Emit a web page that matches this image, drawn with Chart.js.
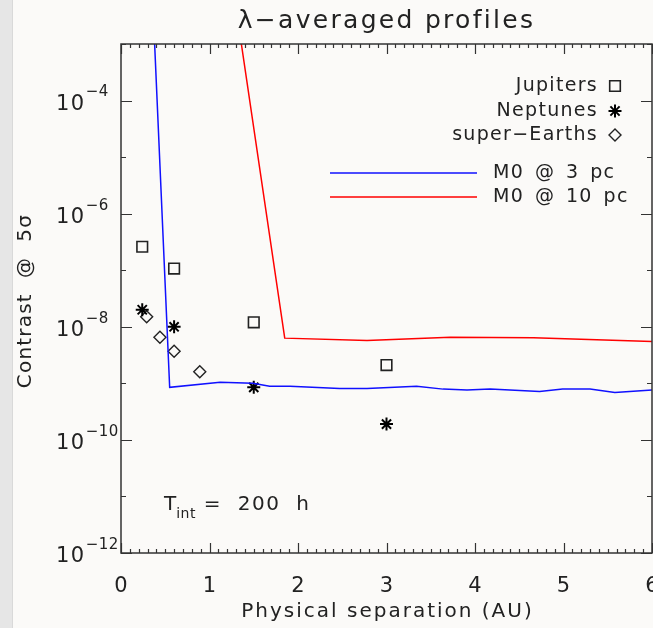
<!DOCTYPE html>
<html>
<head>
<meta charset="utf-8">
<script src="https://cdn.jsdelivr.net/npm/chart.js@4/dist/chart.umd.min.js"></script>
<style>
html, body { margin: 0; padding: 0; background: #fbfaf8; }
body { width: 653px; height: 628px; overflow: hidden; position: relative; }
#strip { position: absolute; left: 0; top: 0; width: 12px; height: 628px; background: #e6e6e6; border-right: 1px solid #d9d9d9; }
#chart { position: absolute; left: 0; top: 0; }
</style>
</head>
<body>
<div id="strip"></div>
<canvas id="chart" width="653" height="628"></canvas>
<script>
// planets (separation in AU, contrast)
const jupitersX = [0.24, 0.6, 1.5, 3.0];
const jupitersY = [2.6e-7, 1.07e-7, 1.2e-8, 2.1e-9];
const neptunesX = [0.24, 0.6, 1.5, 3.0];
const neptunesY = [2.0e-8, 1.0e-8, 8.5e-10, 1.9e-10];
const superEarthsX = [0.29, 0.44, 0.6, 0.89];
const superEarthsY = [1.5e-8, 6.5e-9, 3.7e-9, 1.6e-9];

// contrast curves
const m0at3X = [0.38, 0.55, 1.12, 1.49, 1.68, 1.91, 2.47, 2.78, 3.34, 3.64, 3.91, 4.17, 4.73, 4.99, 5.3, 5.58, 6.0];
const m0at3Y = [1e-3, 8.5e-10, 1.05e-9, 1.0e-9, 8.9e-10, 8.9e-10, 8.1e-10, 8.1e-10, 8.9e-10, 7.9e-10, 7.6e-10, 7.9e-10, 7.2e-10, 7.9e-10, 7.9e-10, 6.9e-10, 7.6e-10];
const m0at10X = [1.36, 1.85, 2.78, 3.72, 4.66, 6.0];
const m0at10Y = [1e-3, 6.3e-9, 5.7e-9, 6.5e-9, 6.4e-9, 5.5e-9];

// axes
const xTicks = [0, 1, 2, 3, 4, 5, 6];
const yDecades = [-12, -11, -10, -9, -8, -7, -6, -5, -4, -3];
const yLabels = [-12, -10, -8, -6, -4];

function pts(xs, ys) {
    return xs.map((x, i) => ({ x: x, y: ys[i] }));
}

const FONT = '"DejaVu Sans", sans-serif';
const INK = '#222';

const symJup = { pointStyle: 'rect', radius: 7.5, borderWidth: 1.6, borderColor: INK, rotation: 0 };
const symNep = { pointStyle: 'star', radius: 6.5, borderWidth: 2, borderColor: '#000', rotation: 0 };
const symSE = { pointStyle: 'rectRot', radius: 6, borderWidth: 1.4, borderColor: INK, rotation: 0 };

function text(ctx, s, x, y, size, spacing) {
    ctx.font = size + 'px ' + FONT;
    ctx.letterSpacing = (spacing || 0) + 'px';
    ctx.fillText(s, x, y);
    return ctx.measureText(s).width;
}

const axesPlugin = {
    id: 'idlAxes',
    afterDraw(chart) {
        const ctx = chart.ctx;
        const a = chart.chartArea;
        const xs = chart.scales.x, ys = chart.scales.y;
        ctx.save();
        ctx.strokeStyle = '#333';
        ctx.lineWidth = 1.5;
        ctx.strokeRect(a.left, a.top, a.right - a.left, a.bottom - a.top);

        // x ticks, major and minor, bottom and top
        ctx.lineWidth = 1.2;
        for (let i = 0; i <= 60; i++) {
            const v = i / 10;
            const px = Math.round(xs.getPixelForValue(v)) + 0.5;
            const len = (i % 10 === 0) ? 10 : 4;
            ctx.beginPath();
            ctx.moveTo(px, a.bottom); ctx.lineTo(px, a.bottom - len);
            ctx.moveTo(px, a.top); ctx.lineTo(px, a.top + len);
            ctx.stroke();
        }
        // y ticks
        yDecades.forEach(d => {
            const py = Math.round(ys.getPixelForValue(Math.pow(10, d))) + 0.5;
            const len = yLabels.includes(d) ? 11 : 5;
            ctx.beginPath();
            ctx.moveTo(a.left, py); ctx.lineTo(a.left + len, py);
            ctx.moveTo(a.right, py); ctx.lineTo(a.right - len, py);
            ctx.stroke();
        });

        ctx.fillStyle = INK;
        // x tick labels
        ctx.textAlign = 'center';
        ctx.textBaseline = 'middle';
        xTicks.forEach(v => {
            text(ctx, String(v), xs.getPixelForValue(v), 587, 21, 0);
        });
        // y tick labels 10^n
        ctx.textAlign = 'left';
        yLabels.forEach(d => {
            const py = ys.getPixelForValue(Math.pow(10, d));
            const w = text(ctx, '10', 56, py + 4, 21, 1.5);
            text(ctx, '\u2212' + Math.abs(d), 56 + w, py - 8, 15, 0.5);
        });

        // titles
        ctx.textAlign = 'center';
        text(ctx, '\u03bb\u2212averaged profiles', (a.left + a.right) / 2, 21, 25, 2.3);
        text(ctx, 'Physical separation (AU)', (a.left + a.right) / 2 + 1, 612, 20, 2);
        ctx.save();
        ctx.translate(26, 301);
        ctx.rotate(-Math.PI / 2);
        text(ctx, 'Contrast  @  5\u03c3', 0, 0, 20, 1.2);
        ctx.restore();

        // symbol legend
        ctx.textAlign = 'right';
        const rows = [['Jupiters', symJup, 86], ['Neptunes', symNep, 111], ['super\u2212Earths', symSE, 135]];
        rows.forEach(r => {
            ctx.fillStyle = INK;
            text(ctx, r[0], 598, r[2], 19, 1.3);
            ctx.fillStyle = 'rgba(0,0,0,0)';
            ctx.strokeStyle = r[1].borderColor;
            ctx.lineWidth = r[1].borderWidth;
            Chart.helpers.drawPoint(ctx, r[1], 615, r[2]);
        });
        // line legend
        ctx.fillStyle = INK;
        const lines = [['M0\u2002@\u20023\u2002pc', '#1010ff', 173], ['M0\u2002@\u200210\u2002pc', '#ff0000', 197]];
        lines.forEach(l => {
            ctx.strokeStyle = l[1];
            ctx.lineWidth = 1.5;
            ctx.beginPath();
            ctx.moveTo(330, l[2]); ctx.lineTo(477, l[2]);
            ctx.stroke();
            ctx.textAlign = 'left';
            text(ctx, l[0], 493, l[2], 19, 1.3);
        });

        // integration time
        ctx.textAlign = 'left';
        const tw = text(ctx, 'T', 164, 505, 20, 0);
        const iw = text(ctx, 'int', 164 + tw, 514, 14, 0.5);
        text(ctx, ' =  200  h', 164 + tw + iw, 505, 20, 1.5);
        ctx.restore();
    }
};

new Chart(document.getElementById('chart'), {
    type: 'scatter',
    data: {
        datasets: [
            { label: 'M0 @ 3 pc', data: pts(m0at3X, m0at3Y), showLine: true, borderColor: '#1010ff', borderWidth: 1.5, pointRadius: 0, fill: false },
            { label: 'M0 @ 10 pc', data: pts(m0at10X, m0at10Y), showLine: true, borderColor: '#ff0000', borderWidth: 1.5, pointRadius: 0, fill: false },
            { label: 'Jupiters', data: pts(jupitersX, jupitersY), pointStyle: 'rect', pointRadius: symJup.radius, borderWidth: symJup.borderWidth, borderColor: INK, backgroundColor: 'rgba(0,0,0,0)' },
            { label: 'Neptunes', data: pts(neptunesX, neptunesY), pointStyle: 'star', pointRadius: symNep.radius, borderWidth: symNep.borderWidth, borderColor: '#000', backgroundColor: 'rgba(0,0,0,0)' },
            { label: 'super-Earths', data: pts(superEarthsX, superEarthsY), pointStyle: 'rectRot', pointRadius: symSE.radius, borderWidth: symSE.borderWidth, borderColor: INK, backgroundColor: 'rgba(0,0,0,0)' }
        ]
    },
    options: {
        responsive: false,
        animation: false,
        layout: { autoPadding: false, padding: { left: 121, right: 1, top: 44, bottom: 75 } },
        plugins: { legend: { display: false }, tooltip: { enabled: false } },
        scales: {
            x: { type: 'linear', min: 0, max: 6, display: false },
            y: { type: 'logarithmic', min: 1e-12, max: 1e-3, display: false }
        }
    },
    plugins: [axesPlugin]
});
</script>
</body>
</html>
